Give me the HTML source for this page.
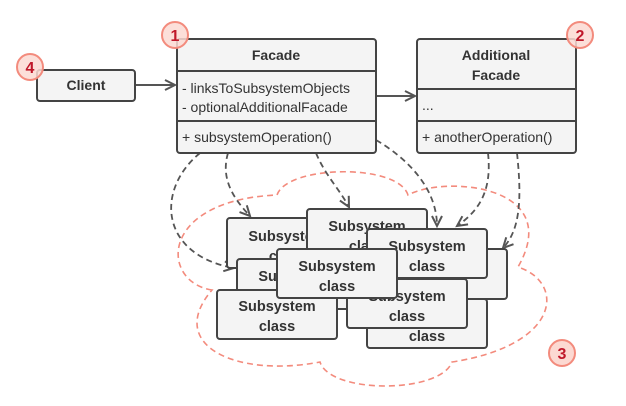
<!DOCTYPE html>
<html><head><meta charset="utf-8"><style>
body{margin:0;background:#fff;width:626px;height:401px;overflow:hidden}
svg text{font-family:"Liberation Sans",sans-serif;fill:#333}
</style></head><body>
<svg width="626" height="401" viewBox="0 0 626 401" xmlns="http://www.w3.org/2000/svg">
<defs>
<marker id="ah" markerWidth="14" markerHeight="14" refX="11" refY="6" orient="auto" markerUnits="userSpaceOnUse">
<path d="M1,1 L11,6 L1,11" fill="none" stroke="#555" stroke-width="2"/>
</marker>
</defs>
<!-- cloud -->
<path d="M212,290 C160,282 158,200 277,195 C287,165 398,163 408,195 C445,175 565,185 518,267 C565,282 562,345 452,362 C440,394 330,394 320,362 C236,378 165,345 212,290 Z" fill="none" stroke="#f38b7d" stroke-width="1.6" stroke-dasharray="6,4"/>
<!-- dashed connectors -->
<g fill="none" stroke="#555" stroke-width="1.8" stroke-dasharray="6,4" marker-end="url(#ah)">
<path d="M200,153 C155,190 160,255 234,268"/>
<path d="M228,153 C220,180 235,200 250,216"/>
<path d="M316,153 C325,175 340,190 349,207"/>
<path d="M376,140 C410,160 437,190 437,226"/>
<path d="M488,153 C492,190 480,210 457,226"/>
<path d="M517,153 C522,200 520,230 503,248"/>
</g>
<!-- solid arrows -->
<g stroke="#555" stroke-width="2" fill="none">
<line x1="135" y1="85" x2="175" y2="85" marker-end="url(#ah)"/>
<line x1="376" y1="96" x2="415" y2="96" marker-end="url(#ah)"/>
</g>
<g stroke-width="2" font-size="14.5" font-weight="bold" text-anchor="middle">
<g><rect x="227" y="218" width="120" height="50" rx="3" fill="#f4f4f4" stroke="#444"/><text x="287" y="241">Subsystem</text><text x="287" y="261">class</text></g>
<g><rect x="307" y="209" width="120" height="50" rx="3" fill="#f4f4f4" stroke="#444"/><text x="367" y="231">Subsystem</text><text x="367" y="251">class</text></g>
<g><rect x="387" y="249" width="120" height="50" rx="3" fill="#f4f4f4" stroke="#444"/></g>
<g><rect x="237" y="259" width="120" height="50" rx="3" fill="#f4f4f4" stroke="#444"/><text x="297" y="281">Subsystem</text></g>
<g><rect x="217" y="290" width="120" height="49" rx="3" fill="#f4f4f4" stroke="#444"/><text x="277" y="311">Subsystem</text><text x="277" y="331">class</text></g>
<g><rect x="367" y="299" width="120" height="49" rx="3" fill="#f4f4f4" stroke="#444"/><text x="427" y="321">Subsystem</text><text x="427" y="341">class</text></g>
<g><rect x="347" y="279" width="120" height="49" rx="3" fill="#f4f4f4" stroke="#444"/><text x="407" y="301">Subsystem</text><text x="407" y="321">class</text></g>
<g><rect x="367" y="229" width="120" height="49" rx="3" fill="#f4f4f4" stroke="#444"/><text x="427" y="251">Subsystem</text><text x="427" y="271">class</text></g>
<g><rect x="277" y="249" width="120" height="49" rx="3" fill="#f4f4f4" stroke="#444"/><text x="337" y="271">Subsystem</text><text x="337" y="291">class</text></g>
</g>
<!-- Client -->
<rect x="37" y="70" width="98" height="31" rx="3" fill="#f4f4f4" stroke="#444" stroke-width="2"/>
<text x="86" y="90" font-size="14" font-weight="bold" text-anchor="middle">Client</text>
<!-- Facade -->
<g stroke="#444" stroke-width="2" fill="#f4f4f4">
<rect x="177" y="39" width="199" height="114" rx="3"/>
<line x1="177" y1="71" x2="376" y2="71"/>
<line x1="177" y1="121" x2="376" y2="121"/>
<rect x="417" y="39" width="159" height="114" rx="3"/>
<line x1="417" y1="89" x2="576" y2="89"/>
<line x1="417" y1="121" x2="576" y2="121"/>
</g>
<text x="276" y="60" font-size="14" font-weight="bold" text-anchor="middle">Facade</text>
<text x="182" y="93" font-size="14">- linksToSubsystemObjects</text>
<text x="182" y="112" font-size="14">- optionalAdditionalFacade</text>
<text x="182" y="142" font-size="14">+ subsystemOperation()</text>
<text x="496" y="60" font-size="14" font-weight="bold" text-anchor="middle">Additional</text>
<text x="496" y="80" font-size="14" font-weight="bold" text-anchor="middle">Facade</text>
<text x="422" y="110" font-size="14">...</text>
<text x="422" y="142" font-size="14">+ anotherOperation()</text>
<!-- badges -->
<g fill="#fcd9d2" stroke="#f38b7d" stroke-width="2">
<circle cx="175" cy="35" r="13" fill-opacity="0.85"/>
<circle cx="580" cy="35" r="13" fill-opacity="0.85"/>
<circle cx="30" cy="67" r="13" fill-opacity="0.85"/>
<circle cx="562" cy="353" r="13"/>
</g>
<g font-size="16" font-weight="bold" text-anchor="middle">
<text x="175" y="41" style="fill:#c0182a">1</text>
<text x="580" y="41" style="fill:#c0182a">2</text>
<text x="30" y="73" style="fill:#c0182a">4</text>
<text x="562" y="359" style="fill:#c0182a">3</text>
</g>
</svg>
</body></html>
